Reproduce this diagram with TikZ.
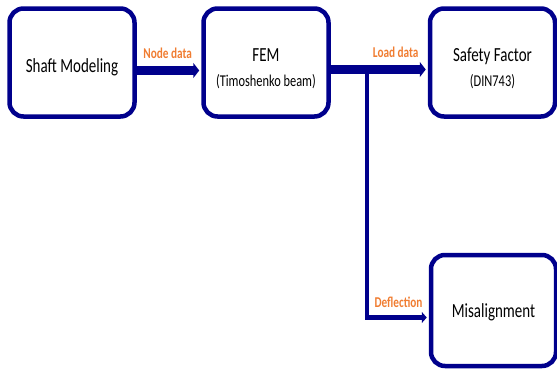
\documentclass[tikz,border=0pt]{standalone}
\usepackage{fontspec}
\setmainfont[FakeStretch=0.75]{Carlito}
\usetikzlibrary{arrows.meta}
\definecolor{boxblue}{RGB}{0,0,140}
\definecolor{tagorange}{RGB}{240,125,50}
\tikzset{
  block/.style={draw=boxblue,line width=4.5pt,rounded corners=14pt,fill=white,minimum width=125pt,minimum height=108pt,inner sep=0pt},
  caption/.style={align=center,inner sep=0pt,font=\fontsize{20}{24}\selectfont},
  flow/.style={draw=boxblue,line width=8.5pt,shorten >=2pt,-{Triangle[length=6pt,width=15pt]}},
  branch/.style={draw=boxblue,line width=4.5pt,line join=miter,shorten >=2pt,-{Triangle[length=5pt,width=11pt]}},
  tag/.style={text=tagorange,font=\bfseries\fontsize{15}{18}\selectfont,inner sep=1pt,anchor=south east}
}
\newcommand{\subline}[1]{{\fontsize{16.5}{20}\selectfont #1}}
\begin{document}
\begin{tikzpicture}[x=1pt,y=-1pt]
  \useasboundingbox (0,0) rectangle (557,368);
  % blocks
  \node[block] (shaft) at (72,62.5) {};
  \node[block] (fem) at (266,62.5) {};
  \node[block] (safety) at (492.5,62.5) {};
  \node[block,minimum height=111pt] (misalign) at (493.5,310.5) {};
  \node[caption] (shafttext) at ([yshift=-4.5pt]shaft.center) {Shaft Modeling};
  \node[caption] (femtext) at ([yshift=-6pt]fem.center) {FEM\\[1pt]\subline{(Timoshenko beam)}};
  \node[caption] (safetytext) at ([yshift=-6pt]safety.center) {Safety Factor\\[1pt]\subline{(DIN743)}};
  \node[caption] (misaligntext) at ([yshift=-2pt]misalign.center) {Misalignment};
  % connectors
  \draw[flow] ([yshift=-8pt]shaft.east) -- ([yshift=-8pt]fem.west)
    node[tag,pos=1,xshift=-4pt,yshift=7pt] {Node data};
  \draw[flow] ([yshift=-7pt]fem.east) -- ([yshift=-7pt]safety.west)
    node[tag,pos=1,xshift=-4pt,yshift=7pt] {Load data};
  \coordinate (fork) at ([yshift=-7pt]fem.east -| 367,0);
  \draw[branch] (fork) |- ([yshift=-7pt]misalign.west)
    node[tag,pos=1,xshift=-3pt,yshift=7pt] {Deflection};
\end{tikzpicture}
\end{document}
